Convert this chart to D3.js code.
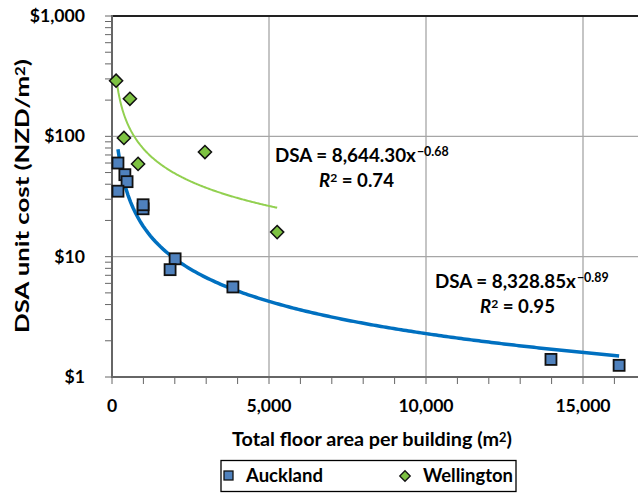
<!DOCTYPE html>
<html>
<head>
<meta charset="utf-8">
<script src="https://cdn.jsdelivr.net/npm/d3@7"></script>
<style>
  body { margin: 0; background: #fff; }
  text { font-family: Lato, "Liberation Sans", sans-serif; font-weight: bold; fill: #000; }
</style>
</head>
<body>
<script>
// Auckland buildings
var aucklandArea = [190, 410, 480, 190, 990, 990, 2010, 1850, 3850, 13980, 16150];
var aucklandCost = [60, 48, 42, 35, 25, 27, 9.6, 7.8, 5.6, 1.4, 1.25];
// Wellington buildings
var wellingtonArea = [130, 570, 380, 830, 2960, 5260];
var wellingtonCost = [290, 205, 97, 59, 74, 16];
// power trend lines: DSA = a * x^b
var aucklandFit = { a: 8328.85, b: -0.89, r2: "0.95" };
var wellingtonFit = { a: 8644.30, b: -0.68, r2: "0.74" };
var yTicks = [1, 10, 100, 1000];
var xTicks = [0, 5000, 10000, 15000];

var W = 638, H = 493;
var svg = d3.select("body").append("svg").attr("width", W).attr("height", H);

var x = d3.scaleLinear().domain([0, 20000]).range([112, 740]);
var y = d3.scaleLog().domain([1, 1000]).range([377, 16]);
var fmt = d3.format(",");

// scale a text's font so that one of its parts has the wanted width
function fit(t, part, width) {
  var fs = parseFloat(t.style("font-size"));
  var w = part.node().getComputedTextLength();
  t.style("font-size", (fs * width / w) + "px");
}

// gridlines
svg.selectAll("line.vg").data([5000, 10000, 15000]).enter().append("line")
    .attr("x1", d => x(d)).attr("x2", d => x(d)).attr("y1", 16).attr("y2", 377)
    .attr("stroke", "#a6a6a6").attr("stroke-width", 1.3);
svg.selectAll("line.hg").data([10, 100]).enter().append("line")
    .attr("x1", 112).attr("x2", W).attr("y1", d => y(d)).attr("y2", d => y(d))
    .attr("stroke", "#a6a6a6").attr("stroke-width", 1.3);
// top border
svg.append("line").attr("x1", 111).attr("x2", W).attr("y1", 16).attr("y2", 16)
    .attr("stroke", "#222").attr("stroke-width", 2);

// minor ticks
var yMinor = [];
[1, 10, 100].forEach(function(p) { for (var k = 1; k <= 9; k++) yMinor.push(p * k); });
yMinor.push(1000);
svg.selectAll("line.ymt").data(yMinor).enter().append("line")
    .attr("x1", 105).attr("x2", 112).attr("y1", d => y(d)).attr("y2", d => y(d))
    .attr("stroke", "#666").attr("stroke-width", 1);
svg.selectAll("line.xmt").data(d3.range(0, 17000, 1000)).enter().append("line")
    .attr("x1", d => x(d)).attr("x2", d => x(d)).attr("y1", 377).attr("y2", 384)
    .attr("stroke", "#666").attr("stroke-width", 1);

// axes lines
svg.append("line").attr("x1", 112).attr("x2", 112).attr("y1", 15).attr("y2", 378)
    .attr("stroke", "#666").attr("stroke-width", 2);
svg.append("line").attr("x1", 111).attr("x2", W).attr("y1", 377).attr("y2", 377)
    .attr("stroke", "#666").attr("stroke-width", 2);

// tick labels
var probe = svg.append("text").style("font-size", "15px").text(fmt(5000));
fit(probe, probe, 45);
var tickSize = probe.style("font-size");
probe.remove();
svg.selectAll("text.yl").data(yTicks).enter().append("text")
    .attr("x", 85).attr("y", d => y(d) + 6).attr("text-anchor", "end")
    .style("font-size", tickSize).text(d => "$" + fmt(d));
svg.selectAll("text.xl").data(xTicks).enter().append("text")
    .attr("x", d => x(d)).attr("y", 412).attr("text-anchor", "middle")
    .style("font-size", tickSize).text(d => fmt(d));

// axis titles
var xt = svg.append("text").attr("x", 372).attr("y", 446).attr("text-anchor", "middle")
    .style("font-size", "16px");
xt.append("tspan").text("Total floor area per building (m");
xt.append("tspan").attr("dy", "-0.35em").style("font-size", "0.65em").text("2");
xt.append("tspan").attr("dy", "0.23em").text(")");
fit(xt, xt, 280);

var yt = svg.append("text").attr("text-anchor", "middle")
    .style("font-size", xt.style("font-size"));
yt.append("tspan").text("DSA unit cost (NZD/m");
yt.append("tspan").attr("dy", "-0.35em").style("font-size", "0.65em").text("2");
yt.append("tspan").attr("dy", "0.23em").text(")");
var sx = 274 / yt.node().getComputedTextLength();
yt.attr("transform", "translate(29,196) rotate(-90) scale(" + sx + ",1)");

// trend lines
function fitLine(f, xs) {
  var lo = d3.min(xs), hi = d3.max(xs);
  return d3.range(0, 201).map(function(i) {
    var v = lo + (hi - lo) * i / 200;
    return [x(v), y(f.a * Math.pow(v, f.b))];
  });
}
var line = d3.line();
svg.append("path").attr("d", line(fitLine(wellingtonFit, wellingtonArea)))
    .attr("fill", "none").attr("stroke", "#92d050").attr("stroke-width", 2);
svg.append("path").attr("d", line(fitLine(aucklandFit, aucklandArea)))
    .attr("fill", "none").attr("stroke", "#0070c0").attr("stroke-width", 3.5);

// markers
svg.selectAll("rect.auck").data(d3.range(aucklandArea.length)).enter().append("rect")
    .attr("x", i => x(aucklandArea[i]) - 5.5).attr("y", i => y(aucklandCost[i]) - 5.5)
    .attr("width", 11).attr("height", 11)
    .attr("fill", "#4f81bd").attr("stroke", "#111").attr("stroke-width", 1.8);
var diamond = d3.symbol().type(d3.symbolDiamond2).size(110);
svg.selectAll("path.well").data(d3.range(wellingtonArea.length)).enter().append("path")
    .attr("d", diamond)
    .attr("transform", i => "translate(" + x(wellingtonArea[i]) + "," + y(wellingtonCost[i]) + ")")
    .attr("fill", "#7dc242").attr("stroke", "#111").attr("stroke-width", 1.5);

// equations
function equation(f, x0, y0, rx) {
  var t = svg.append("text").attr("x", x0).attr("y", y0).style("font-size", "16px");
  var main = t.append("tspan").text("DSA = " + d3.format(",.2f")(f.a) + "x");
  t.append("tspan").attr("dx", 1).attr("dy", "-0.45em").style("font-size", "0.66em")
    .text("\u2212" + Math.abs(f.b).toFixed(2));
  fit(t, main, 141);
  var r = svg.append("text").attr("x", rx).attr("y", y0 + 25).style("font-size", "16px");
  r.append("tspan").style("font-style", "italic").text("R");
  r.append("tspan").attr("dy", "-0.4em").style("font-size", "0.65em").text("2");
  r.append("tspan").attr("dy", "0.26em").text(" = " + f.r2);
  fit(r, r, 75);
}
equation(wellingtonFit, 275, 162, 319);
equation(aucklandFit, 435, 288, 480);

// legend
var lg = svg.append("g");
lg.append("rect").attr("x", 221).attr("y", 460.5).attr("width", 295).attr("height", 31)
    .attr("fill", "#fff").attr("stroke", "#000").attr("stroke-width", 1.3);
lg.append("rect").attr("x", 224).attr("y", 471).attr("width", 9).attr("height", 9)
    .attr("fill", "#4f81bd").attr("stroke", "#111").attr("stroke-width", 1.3);
var la = lg.append("text").attr("x", 246).attr("y", 482).style("font-size", "16px").text("Auckland");
fit(la, la, 77);
lg.append("path").attr("d", d3.symbol().type(d3.symbolDiamond2).size(70))
    .attr("transform", "translate(405,476)")
    .attr("fill", "#7dc242").attr("stroke", "#111").attr("stroke-width", 1.3);
var lw = lg.append("text").attr("x", 423).attr("y", 482).style("font-size", "16px").text("Wellington");
fit(lw, lw, 90);
</script>
</body>
</html>
